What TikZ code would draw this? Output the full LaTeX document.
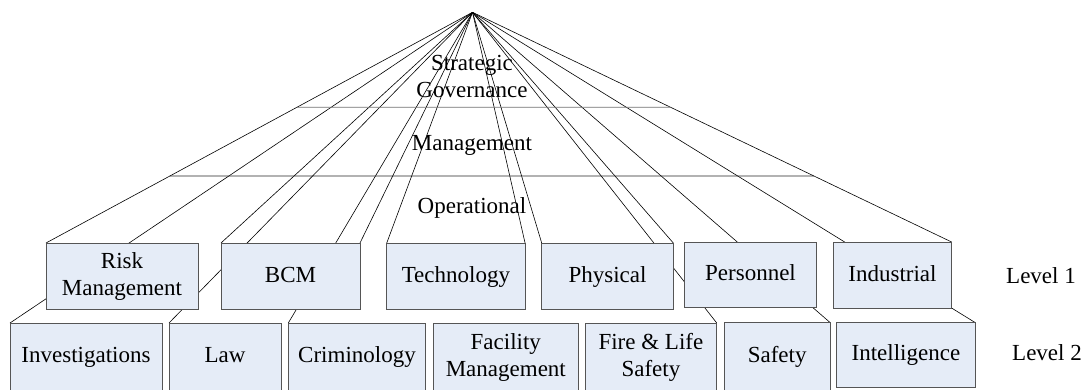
\documentclass[tikz,border=0pt]{standalone}
\usepackage{fontspec}
\setmainfont{Liberation Serif}
\usetikzlibrary{backgrounds}
\definecolor{boxfill}{RGB}{229,236,247}
\definecolor{boxline}{RGB}{85,85,85}
\newcommand\boxfont{\fontsize{23}{27}\selectfont}
\newcommand\mystrut{\rule[-6.5pt]{0pt}{25pt}}
\tikzset{
  lvbox/.style={draw=boxline, fill=boxfill, line width=0.9pt, inner sep=0pt, outer sep=0pt, align=center, font=\boxfont},
  ray/.style={draw=black, line width=0.6pt},
  lvtext/.style={font=\boxfont, inner sep=0pt, align=center},
}
\begin{document}
\begin{tikzpicture}[x=1pt,y=-1pt]
\useasboundingbox (0,0) rectangle (1083,389);
% level 1 boxes
\node[lvbox, minimum width=152pt, minimum height=66pt] (rm) at (122,276) {\mystrut Risk\\\mystrut Management};
\node[lvbox, minimum width=139pt, minimum height=66pt] (bcm) at (290.5,276) {\mystrut BCM};
\node[lvbox, minimum width=138.3pt, minimum height=66pt] (tech) at (455.9,276) {\mystrut Technology};
\node[lvbox, minimum width=131.6pt, minimum height=66pt] (phys) at (607.5,276) {\mystrut Physical};
\node[lvbox, minimum width=132.4pt, minimum height=65.5pt] (pers) at (750.5,274.8) {\mystrut Personnel};
\node[lvbox, minimum width=118.4pt, minimum height=66.5pt] (ind) at (892.5,275.3) {\mystrut Industrial};
% level 2 boxes
\node[lvbox, minimum width=152pt, minimum height=67pt] (inv) at (86,356.5) {\mystrut Investigations};
\node[lvbox, minimum width=112pt, minimum height=67pt] (law) at (225,356.5) {\mystrut Law};
\node[lvbox, minimum width=137.4pt, minimum height=67pt] (crim) at (357,356.5) {\mystrut Criminology};
\node[lvbox, minimum width=145pt, minimum height=67pt] (fac) at (505.8,356.5) {\mystrut Facility\\\mystrut Management};
\node[lvbox, minimum width=131.7pt, minimum height=67pt] (fire) at (650.9,356.5) {\mystrut Fire \& Life\\\mystrut Safety};
\node[lvbox, minimum width=105.7pt, minimum height=67.5pt] (safe) at (777.2,356.25) {\mystrut Safety};
\node[lvbox, minimum width=138.3pt, minimum height=64.5pt] (intel) at (905.9,354.75) {\mystrut Intelligence};
% level labels
\node[lvtext, anchor=base west] (lv1) at (1006,283) {Level 1};
\node[lvtext, anchor=base west] (lv2) at (1012,360) {Level 2};
% tier labels
\node[lvtext] (strat) at (472,77.5) {\mystrut Strategic\\\mystrut Governance};
\node[lvtext] (mgmt) at (472,144) {\mystrut Management};
\node[lvtext] (oper) at (472,207) {\mystrut Operational};
\coordinate (apex) at (472.5,12.3);
\coordinate (hla) at (0,107.3);
\coordinate (hra) at (1083,107.3);
\coordinate (hlb) at (0,176);
\coordinate (hrb) at (1083,176);
\begin{pgfonlayer}{background}
\fill[white] (0,0) rectangle (1083,389);
\foreach \t in {rm.north west, inv.north west, bcm.north west, law.north west, crim.north west, bcm.north east, tech.north west, tech.north east, phys.north west, fire.north east, phys.north east, safe.north east, intel.north east, ind.north east}
  \draw[ray] (apex) -- (\t);
\draw[draw=black!55, line width=0.8pt] (intersection of apex--rm.north west and hla--hra) -- (intersection of apex--ind.north east and hla--hra);
\draw[draw=black!85, line width=0.8pt] (intersection of apex--rm.north west and hlb--hrb) -- (intersection of apex--ind.north east and hlb--hrb);
\end{pgfonlayer}
\end{tikzpicture}
\end{document}
